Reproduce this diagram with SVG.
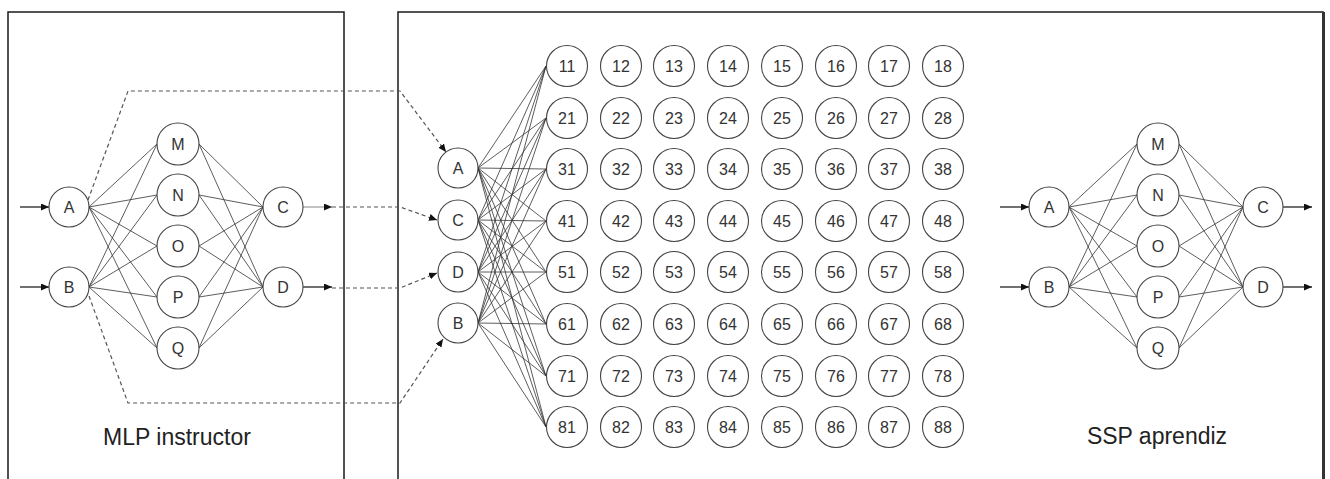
<svg xmlns="http://www.w3.org/2000/svg" width="1330" height="479" viewBox="0 0 1330 479">
<style>
.frame{fill:none;stroke:#1a1a1a;stroke-width:1.5}
.nd{fill:#fff;stroke:#444;stroke-width:1.1}
.lb{font-family:"Liberation Sans",Arial,sans-serif;font-size:16px;fill:#333;text-anchor:middle;dominant-baseline:central}
.ttl{font-family:"Liberation Sans",Arial,sans-serif;font-size:23px;fill:#222;text-anchor:middle}
.ln{stroke:#333;stroke-width:0.8;fill:none}
.ds{stroke:#555;stroke-width:1.2;fill:none;stroke-dasharray:4 3}
.ar{stroke:#222;stroke-width:1.3;fill:none}
</style>
<defs>
<marker id="ah" markerWidth="9" markerHeight="8" refX="8" refY="3.5" orient="auto" markerUnits="userSpaceOnUse">
<path d="M0,0 L8,3.5 L0,7 z" fill="#111"/>
</marker>
<g id="net-links">
<path class="ln" d="M89,207 L157,144 M89,207 L157,195 M89,207 L157,246 M89,207 L157,297 M89,207 L157,348 M89,287 L157,144 M89,287 L157,195 M89,287 L157,246 M89,287 L157,297 M89,287 L157,348 M199,144 L263,207 M199,195 L263,207 M199,246 L263,207 M199,297 L263,207 M199,348 L263,207 M199,144 L263,287 M199,195 L263,287 M199,246 L263,287 M199,297 L263,287 M199,348 L263,287"/>
</g>
</defs>

<g id="frames">
<rect class="frame" x="8" y="12" width="336" height="480"/>
<rect class="frame" x="398" y="12" width="925" height="480"/>
<line x1="1323.5" y1="12" x2="1323.5" y2="479" stroke="#333" stroke-width="3"/>
</g>

<g id="connectors">
<use href="#net-links"/>
<use href="#net-links" transform="translate(980,0)"/>
<!-- inputs/outputs -->
<line class="ar" x1="20" y1="207" x2="49" y2="207" marker-end="url(#ah)"/>
<line class="ar" x1="20" y1="287" x2="49" y2="287" marker-end="url(#ah)"/>
<line class="ar" x1="1000" y1="207" x2="1029" y2="207" marker-end="url(#ah)"/>
<line class="ar" x1="1000" y1="287" x2="1029" y2="287" marker-end="url(#ah)"/>
<line class="ar" x1="1283" y1="207" x2="1312" y2="207" marker-end="url(#ah)"/>
<line class="ar" x1="1283" y1="287" x2="1312" y2="287" marker-end="url(#ah)"/>
<line x1="303" y1="207" x2="332" y2="207" stroke="#999" stroke-width="1.2" marker-end="url(#ah)"/>
<line class="ar" x1="303" y1="287" x2="332" y2="287" marker-end="url(#ah)"/>
<!-- dashed transfer -->
<path class="ds" d="M88,200 L128,91 L400,91 L446,152" marker-end="url(#ah)" stroke="#777"/>
<path class="ds" d="M332,207 L400,207 L437,220" marker-end="url(#ah)" stroke="#888"/>
<path class="ds" d="M332,288 L400,288 L437,273" marker-end="url(#ah)"/>
<path class="ds" d="M89,296 L128,403 L400,403 L443,339" marker-end="url(#ah)" stroke="#444"/>
<!-- middle full connection -->
<path class="ln" d="M478,168 L546,66 M478,168 L546,118 M478,168 L546,169 M478,168 L546,221 M478,168 L546,272 M478,168 L546,324 M478,168 L546,376 M478,168 L546,427
M478,220 L546,66 M478,220 L546,118 M478,220 L546,169 M478,220 L546,221 M478,220 L546,272 M478,220 L546,324 M478,220 L546,376 M478,220 L546,427
M478,272 L546,66 M478,272 L546,118 M478,272 L546,169 M478,272 L546,221 M478,272 L546,272 M478,272 L546,324 M478,272 L546,376 M478,272 L546,427
M478,323 L546,66 M478,323 L546,118 M478,323 L546,169 M478,323 L546,221 M478,323 L546,272 M478,323 L546,324 M478,323 L546,376 M478,323 L546,427"/>
</g>

<g id="mlp-instructor">
<g id="L-A"><circle class="nd" cx="69" cy="207" r="20"/><text class="lb" x="69" y="207">A</text></g>
<g id="L-B"><circle class="nd" cx="69" cy="287" r="20"/><text class="lb" x="69" y="287">B</text></g>
<g id="L-M"><circle class="nd" cx="178" cy="144" r="21"/><text class="lb" x="178" y="144">M</text></g>
<g id="L-N"><circle class="nd" cx="178" cy="195" r="21"/><text class="lb" x="178" y="195">N</text></g>
<g id="L-O"><circle class="nd" cx="178" cy="246" r="21"/><text class="lb" x="178" y="246">O</text></g>
<g id="L-P"><circle class="nd" cx="178" cy="297" r="21"/><text class="lb" x="178" y="297">P</text></g>
<g id="L-Q"><circle class="nd" cx="178" cy="348" r="21"/><text class="lb" x="178" y="348">Q</text></g>
<g id="L-C"><circle class="nd" cx="283" cy="207" r="20"/><text class="lb" x="283" y="207">C</text></g>
<g id="L-D"><circle class="nd" cx="283" cy="287" r="20"/><text class="lb" x="283" y="287">D</text></g>
<text class="ttl" x="177" y="445">MLP instructor</text>
</g>

<g id="ssp-aprendiz">
<g id="R-A"><circle class="nd" cx="1049" cy="207" r="20"/><text class="lb" x="1049" y="207">A</text></g>
<g id="R-B"><circle class="nd" cx="1049" cy="287" r="20"/><text class="lb" x="1049" y="287">B</text></g>
<g id="R-M"><circle class="nd" cx="1158" cy="144" r="21"/><text class="lb" x="1158" y="144">M</text></g>
<g id="R-N"><circle class="nd" cx="1158" cy="195" r="21"/><text class="lb" x="1158" y="195">N</text></g>
<g id="R-O"><circle class="nd" cx="1158" cy="246" r="21"/><text class="lb" x="1158" y="246">O</text></g>
<g id="R-P"><circle class="nd" cx="1158" cy="297" r="21"/><text class="lb" x="1158" y="297">P</text></g>
<g id="R-Q"><circle class="nd" cx="1158" cy="348" r="21"/><text class="lb" x="1158" y="348">Q</text></g>
<g id="R-C"><circle class="nd" cx="1263" cy="207" r="20"/><text class="lb" x="1263" y="207">C</text></g>
<g id="R-D"><circle class="nd" cx="1263" cy="287" r="20"/><text class="lb" x="1263" y="287">D</text></g>
<text class="ttl" x="1157" y="444">SSP aprendiz</text>
</g>

<g id="map-inputs">
<g id="M-A"><circle class="nd" cx="458" cy="168" r="20"/><text class="lb" x="458" y="168">A</text></g>
<g id="M-C"><circle class="nd" cx="458" cy="220" r="20"/><text class="lb" x="458" y="220">C</text></g>
<g id="M-D"><circle class="nd" cx="458" cy="272" r="20"/><text class="lb" x="458" y="272">D</text></g>
<g id="M-B"><circle class="nd" cx="458" cy="323" r="20"/><text class="lb" x="458" y="323">B</text></g>
</g>

<g id="grid">
<g id="n11"><circle class="nd" cx="567" cy="66" r="20.5"/><text class="lb" x="567" y="66">11</text></g>
<g id="n12"><circle class="nd" cx="621" cy="66" r="20.5"/><text class="lb" x="621" y="66">12</text></g>
<g id="n13"><circle class="nd" cx="674" cy="66" r="20.5"/><text class="lb" x="674" y="66">13</text></g>
<g id="n14"><circle class="nd" cx="728" cy="66" r="20.5"/><text class="lb" x="728" y="66">14</text></g>
<g id="n15"><circle class="nd" cx="782" cy="66" r="20.5"/><text class="lb" x="782" y="66">15</text></g>
<g id="n16"><circle class="nd" cx="836" cy="66" r="20.5"/><text class="lb" x="836" y="66">16</text></g>
<g id="n17"><circle class="nd" cx="889" cy="66" r="20.5"/><text class="lb" x="889" y="66">17</text></g>
<g id="n18"><circle class="nd" cx="943" cy="66" r="20.5"/><text class="lb" x="943" y="66">18</text></g>

<g id="n21"><circle class="nd" cx="567" cy="118" r="20.5"/><text class="lb" x="567" y="118">21</text></g>
<g id="n22"><circle class="nd" cx="621" cy="118" r="20.5"/><text class="lb" x="621" y="118">22</text></g>
<g id="n23"><circle class="nd" cx="674" cy="118" r="20.5"/><text class="lb" x="674" y="118">23</text></g>
<g id="n24"><circle class="nd" cx="728" cy="118" r="20.5"/><text class="lb" x="728" y="118">24</text></g>
<g id="n25"><circle class="nd" cx="782" cy="118" r="20.5"/><text class="lb" x="782" y="118">25</text></g>
<g id="n26"><circle class="nd" cx="836" cy="118" r="20.5"/><text class="lb" x="836" y="118">26</text></g>
<g id="n27"><circle class="nd" cx="889" cy="118" r="20.5"/><text class="lb" x="889" y="118">27</text></g>
<g id="n28"><circle class="nd" cx="943" cy="118" r="20.5"/><text class="lb" x="943" y="118">28</text></g>

<g id="n31"><circle class="nd" cx="567" cy="169" r="20.5"/><text class="lb" x="567" y="169">31</text></g>
<g id="n32"><circle class="nd" cx="621" cy="169" r="20.5"/><text class="lb" x="621" y="169">32</text></g>
<g id="n33"><circle class="nd" cx="674" cy="169" r="20.5"/><text class="lb" x="674" y="169">33</text></g>
<g id="n34"><circle class="nd" cx="728" cy="169" r="20.5"/><text class="lb" x="728" y="169">34</text></g>
<g id="n35"><circle class="nd" cx="782" cy="169" r="20.5"/><text class="lb" x="782" y="169">35</text></g>
<g id="n36"><circle class="nd" cx="836" cy="169" r="20.5"/><text class="lb" x="836" y="169">36</text></g>
<g id="n37"><circle class="nd" cx="889" cy="169" r="20.5"/><text class="lb" x="889" y="169">37</text></g>
<g id="n38"><circle class="nd" cx="943" cy="169" r="20.5"/><text class="lb" x="943" y="169">38</text></g>

<g id="n41"><circle class="nd" cx="567" cy="221" r="20.5"/><text class="lb" x="567" y="221">41</text></g>
<g id="n42"><circle class="nd" cx="621" cy="221" r="20.5"/><text class="lb" x="621" y="221">42</text></g>
<g id="n43"><circle class="nd" cx="674" cy="221" r="20.5"/><text class="lb" x="674" y="221">43</text></g>
<g id="n44"><circle class="nd" cx="728" cy="221" r="20.5"/><text class="lb" x="728" y="221">44</text></g>
<g id="n45"><circle class="nd" cx="782" cy="221" r="20.5"/><text class="lb" x="782" y="221">45</text></g>
<g id="n46"><circle class="nd" cx="836" cy="221" r="20.5"/><text class="lb" x="836" y="221">46</text></g>
<g id="n47"><circle class="nd" cx="889" cy="221" r="20.5"/><text class="lb" x="889" y="221">47</text></g>
<g id="n48"><circle class="nd" cx="943" cy="221" r="20.5"/><text class="lb" x="943" y="221">48</text></g>

<g id="n51"><circle class="nd" cx="567" cy="272" r="20.5"/><text class="lb" x="567" y="272">51</text></g>
<g id="n52"><circle class="nd" cx="621" cy="272" r="20.5"/><text class="lb" x="621" y="272">52</text></g>
<g id="n53"><circle class="nd" cx="674" cy="272" r="20.5"/><text class="lb" x="674" y="272">53</text></g>
<g id="n54"><circle class="nd" cx="728" cy="272" r="20.5"/><text class="lb" x="728" y="272">54</text></g>
<g id="n55"><circle class="nd" cx="782" cy="272" r="20.5"/><text class="lb" x="782" y="272">55</text></g>
<g id="n56"><circle class="nd" cx="836" cy="272" r="20.5"/><text class="lb" x="836" y="272">56</text></g>
<g id="n57"><circle class="nd" cx="889" cy="272" r="20.5"/><text class="lb" x="889" y="272">57</text></g>
<g id="n58"><circle class="nd" cx="943" cy="272" r="20.5"/><text class="lb" x="943" y="272">58</text></g>

<g id="n61"><circle class="nd" cx="567" cy="324" r="20.5"/><text class="lb" x="567" y="324">61</text></g>
<g id="n62"><circle class="nd" cx="621" cy="324" r="20.5"/><text class="lb" x="621" y="324">62</text></g>
<g id="n63"><circle class="nd" cx="674" cy="324" r="20.5"/><text class="lb" x="674" y="324">63</text></g>
<g id="n64"><circle class="nd" cx="728" cy="324" r="20.5"/><text class="lb" x="728" y="324">64</text></g>
<g id="n65"><circle class="nd" cx="782" cy="324" r="20.5"/><text class="lb" x="782" y="324">65</text></g>
<g id="n66"><circle class="nd" cx="836" cy="324" r="20.5"/><text class="lb" x="836" y="324">66</text></g>
<g id="n67"><circle class="nd" cx="889" cy="324" r="20.5"/><text class="lb" x="889" y="324">67</text></g>
<g id="n68"><circle class="nd" cx="943" cy="324" r="20.5"/><text class="lb" x="943" y="324">68</text></g>

<g id="n71"><circle class="nd" cx="567" cy="376" r="20.5"/><text class="lb" x="567" y="376">71</text></g>
<g id="n72"><circle class="nd" cx="621" cy="376" r="20.5"/><text class="lb" x="621" y="376">72</text></g>
<g id="n73"><circle class="nd" cx="674" cy="376" r="20.5"/><text class="lb" x="674" y="376">73</text></g>
<g id="n74"><circle class="nd" cx="728" cy="376" r="20.5"/><text class="lb" x="728" y="376">74</text></g>
<g id="n75"><circle class="nd" cx="782" cy="376" r="20.5"/><text class="lb" x="782" y="376">75</text></g>
<g id="n76"><circle class="nd" cx="836" cy="376" r="20.5"/><text class="lb" x="836" y="376">76</text></g>
<g id="n77"><circle class="nd" cx="889" cy="376" r="20.5"/><text class="lb" x="889" y="376">77</text></g>
<g id="n78"><circle class="nd" cx="943" cy="376" r="20.5"/><text class="lb" x="943" y="376">78</text></g>

<g id="n81"><circle class="nd" cx="567" cy="427" r="20.5"/><text class="lb" x="567" y="427">81</text></g>
<g id="n82"><circle class="nd" cx="621" cy="427" r="20.5"/><text class="lb" x="621" y="427">82</text></g>
<g id="n83"><circle class="nd" cx="674" cy="427" r="20.5"/><text class="lb" x="674" y="427">83</text></g>
<g id="n84"><circle class="nd" cx="728" cy="427" r="20.5"/><text class="lb" x="728" y="427">84</text></g>
<g id="n85"><circle class="nd" cx="782" cy="427" r="20.5"/><text class="lb" x="782" y="427">85</text></g>
<g id="n86"><circle class="nd" cx="836" cy="427" r="20.5"/><text class="lb" x="836" y="427">86</text></g>
<g id="n87"><circle class="nd" cx="889" cy="427" r="20.5"/><text class="lb" x="889" y="427">87</text></g>
<g id="n88"><circle class="nd" cx="943" cy="427" r="20.5"/><text class="lb" x="943" y="427">88</text></g>
</g>
</svg>
